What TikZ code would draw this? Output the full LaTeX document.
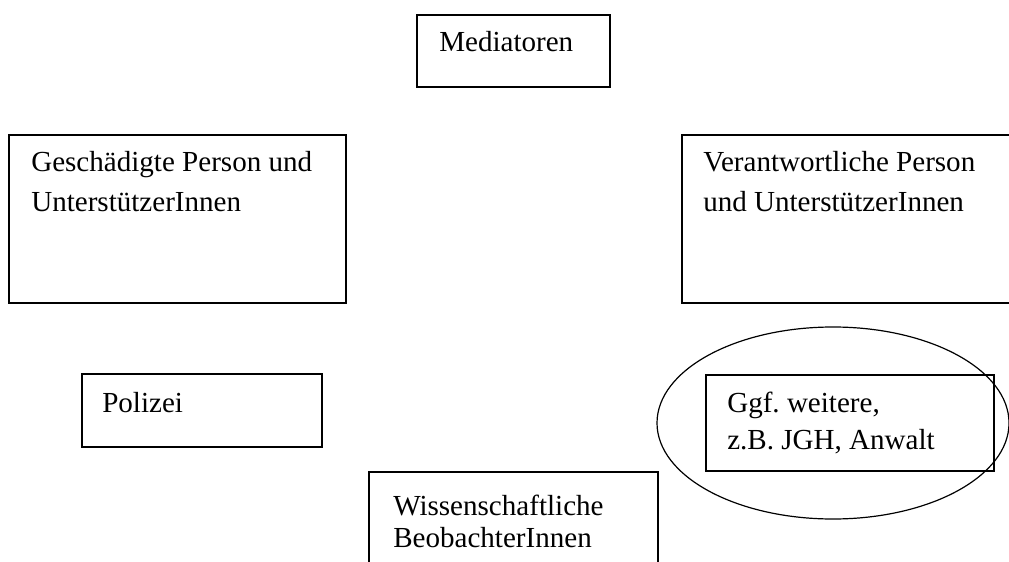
\documentclass[tikz,border=0pt]{standalone}
\usepackage{fontspec}
\setmainfont{Liberation Serif}
\usetikzlibrary{shapes.geometric}
\frenchspacing

\begin{document}
\begin{tikzpicture}[x=0.75pt, y=0.75pt,
  box/.style={draw, line width=1.2pt, inner sep=0pt},
  txt/.style={anchor=base west, align=left, inner sep=0pt,
    font=\fontsize{21.8}{30}\selectfont}]

\useasboundingbox (0,0) rectangle (1009,561);

% the boxes
\node[box, minimum width=144.75pt, minimum height=54pt] (med) at (513.5,510) {};
\node[box, minimum width=252.75pt, minimum height=126pt] (ges) at (177.5,342) {};
\node[box, minimum width=252.75pt, minimum height=126pt] (ver) at (850.5,342) {};
\node[box, minimum width=180pt, minimum height=54.75pt] (pol) at (202,150.5) {};
\node[box, minimum width=216pt, minimum height=72pt] (ggf) at (850,138) {};
\node[box, minimum width=216.75pt, minimum height=75pt] (wis) at (513.5,39) {};
\node[draw, ellipse, line width=0.9pt, inner sep=0pt,
  minimum width=264pt, minimum height=144pt] (grp) at (833,138) {};

% the texts (base = last line)
\node[txt] (medtxt) at (439,509) {Mediatoren};
\node[txt] (gestxt) at (31,349) {Geschädigte Person und\\UnterstützerInnen};
\node[txt] (vertxt) at (703,349) {Verantwortliche Person\\und UnterstützerInnen};
\node[txt] (poltxt) at (102,149) {Polizei};
\node[txt, font=\fontsize{21.8}{27.75}\selectfont] (ggftxt) at (727,112)
  {Ggf. weitere,\\z.B. JGH, Anwalt};
\node[txt, font=\fontsize{21.8}{24}\selectfont] (wistxt) at (393,14)
  {Wissenschaftliche\\BeobachterInnen};

\end{tikzpicture}
\end{document}
